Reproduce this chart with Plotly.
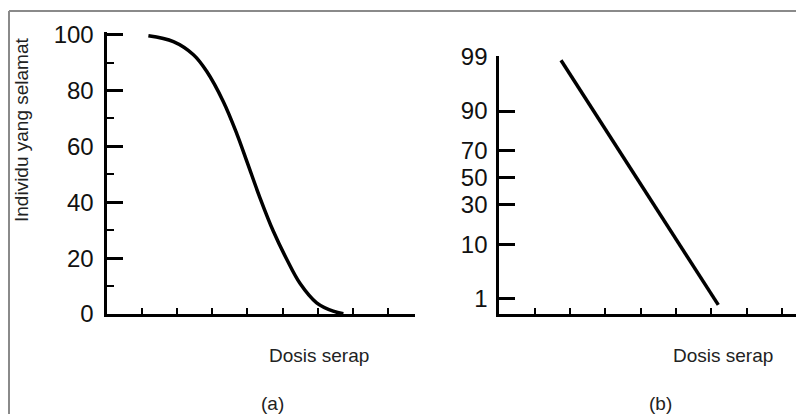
import plotly.graph_objects as go
from statistics import NormalDist

# ---------------- data ----------------
# Panel (a): survival (%) vs absorbed dose (arbitrary units)
dose_a = [1.19, 1.90, 2.47, 2.85, 3.32, 3.70, 4.00, 4.36, 4.74, 5.12, 5.50, 5.97, 6.44, 6.73]
survive_a = [99.6, 97.5, 92.8, 86.8, 76.0, 64.6, 54.2, 41.6, 29.6, 19.6, 10.9, 4.0, 1.0, 0.1]

# Panel (b): same on probability (probit) scale -> straight line
dose_b = [1.745, 6.195]
survive_b = [98.8, 0.72]

ticks_a = [0, 20, 40, 60, 80, 100]
ticks_b = [1, 10, 30, 50, 70, 90, 99]
x_ticks = [1, 2, 3, 4, 5, 6, 7, 8]

y_title = "Individu yang selamat"
x_title = "Dosis serap"
labels = ["(a)", "(b)"]

# ---------------- helpers ----------------
W, H = 804, 414
OFF = 8  # page body margin offset
nd = NormalDist()


def probit(p):
    return nd.inv_cdf(p / 100.0)


def fx(px):
    return (px - OFF) / W


def fy(py):
    return 1 - (py - OFF) / H


# ---------------- figure ----------------
fig = go.Figure()

fig.add_trace(go.Scatter(
    x=dose_a, y=survive_a, mode="lines", line=dict(color="black", width=3.5, shape="spline", smoothing=1.0),
    xaxis="x", yaxis="y", showlegend=False, hoverinfo="skip"))

fig.add_trace(go.Scatter(
    x=dose_b, y=[probit(v) for v in survive_b], mode="lines", line=dict(color="black", width=3.5),
    xaxis="x2", yaxis="y2", showlegend=False, hoverinfo="skip"))

tickfont = dict(family="Liberation Sans, Arial", size=24, color="#111111")
textfont = dict(family="Liberation Sans, Arial", size=19, color="#222222")

# panel (a) geometry (reference pixels)
a_x0, a_x1, a_unit = 106.5, 415, 35.2
a_y0, a_yunit = 314, 2.793
a_ytop = 101
# panel (b) geometry
b_x0, b_unit = 499.3, 35.35
b_mid, b_yunit = 177.66, 52.0
b_lo, b_hi = -2.628, 2.34

axis_common = dict(showgrid=False, zeroline=False, showline=True, linecolor="black", linewidth=3,
                   mirror=False, fixedrange=True, automargin=False)

fig.update_layout(
    width=W, height=H, autosize=False,
    margin=dict(l=0, r=0, t=0, b=0, autoexpand=False),
    paper_bgcolor="white", plot_bgcolor="white",
    xaxis=dict(domain=[fx(a_x0), fx(a_x1)], range=[0, (a_x1 - a_x0) / a_unit],
               tickvals=x_ticks, ticks="inside", ticklen=6, tickwidth=2, tickcolor="black",
               showticklabels=False, anchor="y", **axis_common),
    yaxis=dict(domain=[fy(a_y0), fy(a_y0 - a_ytop * a_yunit)], range=[0, a_ytop],
               tickvals=ticks_a, ticktext=[str(v) for v in ticks_a],
               ticks="inside", ticklen=16, tickwidth=2.5, tickcolor="black",
               minor=dict(tickmode="linear", tick0=0, dtick=10, ticks="inside", ticklen=7,
                          tickwidth=2, tickcolor="black", showgrid=False),
               tickfont=tickfont, ticklabelstandoff=5, anchor="x", **axis_common),
    xaxis2=dict(domain=[fx(b_x0), 1.0], range=[0, (W + OFF - b_x0) / b_unit],
                tickvals=x_ticks, ticks="inside", ticklen=6, tickwidth=2, tickcolor="black",
                showticklabels=False, anchor="y2", **axis_common),
    yaxis2=dict(domain=[fy(b_mid - b_lo * b_yunit), fy(b_mid - b_hi * b_yunit)], range=[b_lo, b_hi],
                tickvals=[probit(v) for v in ticks_b], ticktext=[str(v) for v in ticks_b],
                ticks="inside", ticklen=16, tickwidth=2.5, tickcolor="black",
                tickfont=tickfont, ticklabelstandoff=4, anchor="x2", **axis_common),
)

# outer frame (gray lines on top and left)
fig.add_shape(type="line", xref="paper", yref="paper", x0=fx(9), x1=1.0, y0=fy(11), y1=fy(11),
              line=dict(color="#8a8a8a", width=2))
fig.add_shape(type="line", xref="paper", yref="paper", x0=fx(9), x1=fx(9), y0=fy(11), y1=0,
              line=dict(color="#8a8a8a", width=2))

# texts
fig.add_annotation(text=y_title, xref="paper", yref="paper", x=fx(22), y=fy(130), textangle=-90,
                   showarrow=False, font=textfont, xanchor="center", yanchor="middle")
fig.add_annotation(text=x_title, xref="paper", yref="paper", x=fx(319), y=fy(355),
                   showarrow=False, font=textfont, xanchor="center", yanchor="middle")
fig.add_annotation(text=x_title, xref="paper", yref="paper", x=fx(723), y=fy(355),
                   showarrow=False, font=textfont, xanchor="center", yanchor="middle")
fig.add_annotation(text=labels[0], xref="paper", yref="paper", x=fx(272), y=fy(403),
                   showarrow=False, font=textfont, xanchor="center", yanchor="middle")
fig.add_annotation(text=labels[1], xref="paper", yref="paper", x=fx(660), y=fy(403),
                   showarrow=False, font=textfont, xanchor="center", yanchor="middle")

fig.write_html("out.html", config={"displayModeBar": False})
